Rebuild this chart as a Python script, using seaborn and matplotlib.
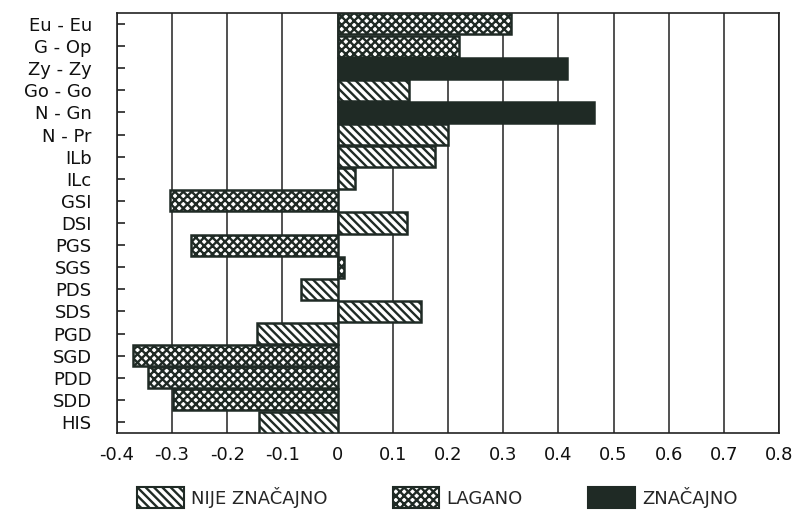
import matplotlib
matplotlib.use("Agg")
import matplotlib.pyplot as plt
import matplotlib.patches as mpatches
import seaborn as sns
import pandas as pd

labels = ["Eu - Eu", "G - Op", "Zy - Zy", "Go - Go", "N - Gn", "N - Pr", "ILb", "ILc",
          "GSI", "DSI", "PGS", "SGS", "PDS", "SDS", "PGD", "SGD", "PDD", "SDD", "HIS"]
values = [0.315, 0.22, 0.416, 0.13, 0.465, 0.20, 0.176, 0.031,
          -0.304, 0.126, -0.265, 0.011, -0.066, 0.151, -0.146, -0.37, -0.343, -0.298, -0.142]
cats = ["NIJE ZNAČAJNO", "LAGANO", "ZNAČAJNO"]
groups = ["LAGANO", "LAGANO", "ZNAČAJNO", "NIJE ZNAČAJNO", "ZNAČAJNO", "NIJE ZNAČAJNO",
          "NIJE ZNAČAJNO", "NIJE ZNAČAJNO", "LAGANO", "NIJE ZNAČAJNO", "LAGANO", "LAGANO",
          "NIJE ZNAČAJNO", "NIJE ZNAČAJNO", "NIJE ZNAČAJNO", "LAGANO", "LAGANO", "LAGANO",
          "NIJE ZNAČAJNO"]
xticks = [-0.4, -0.3, -0.2, -0.1, 0, 0.1, 0.2, 0.3, 0.4, 0.5, 0.6, 0.7, 0.8]
xticklabels = ["-0.4", "-0.3", "-0.2", "-0.1", "0", "0.1", "0.2", "0.3", "0.4", "0.5", "0.6", "0.7", "0.8"]

DARK = "#1f2a25"
fills = {"NIJE ZNAČAJNO": "white", "LAGANO": "white", "ZNAČAJNO": DARK}
hatches = {"NIJE ZNAČAJNO": "\\\\\\\\", "LAGANO": "xxxx", "ZNAČAJNO": ""}

sns.set_style("white")
plt.rcParams["font.family"] = ["DejaVu Sans"]
plt.rcParams["hatch.linewidth"] = 1.7
plt.rcParams["hatch.color"] = DARK

df = pd.DataFrame({"label": labels, "value": values, "group": groups})

fig = plt.figure(figsize=(7.95, 5.15), dpi=100)
ax = fig.add_axes([0.147, 0.159, 0.833, 0.816])

sns.barplot(data=df, x="value", y="label", hue="group", hue_order=cats, order=labels,
            palette=fills, dodge=False, width=0.95, saturation=1, errorbar=None,
            legend=False, orient="h", ax=ax, edgecolor=DARK, linewidth=1.8, zorder=3)

for cont, cat in zip(ax.containers, cats):
    for p in cont.patches:
        p.set_hatch(hatches[cat])
        p.set_edgecolor(DARK)

ax.set_xlim(-0.4, 0.8)
ax.set_ylim(len(labels) - 0.5, -0.5)
ax.set_xticks(xticks)
ax.set_xticklabels(xticklabels)
ax.set_xlabel("")
ax.set_ylabel("")
ax.xaxis.grid(True, color="#222222", linewidth=1.1)
ax.yaxis.grid(False)
ax.set_axisbelow(True)
for s in ax.spines.values():
    s.set_visible(True)
    s.set_color("#222222")
    s.set_linewidth(1.2)
ax.tick_params(axis="y", direction="in", length=6, width=1.2, color="#222222",
               left=True, pad=18, labelsize=13, labelcolor="#111111")
ax.tick_params(axis="x", length=0, pad=9, labelsize=13, labelcolor="#111111")

handles = [mpatches.Patch(facecolor=fills[c], edgecolor=DARK, hatch=hatches[c], linewidth=1.5) for c in cats]
fig.legend(handles, cats, loc="lower center", bbox_to_anchor=(0.55, -0.018), ncol=3,
           frameon=False, fontsize=13, handlelength=2.6, handleheight=1.4,
           columnspacing=3.6, handletextpad=0.4)

fig.savefig("out.png", dpi=100)
